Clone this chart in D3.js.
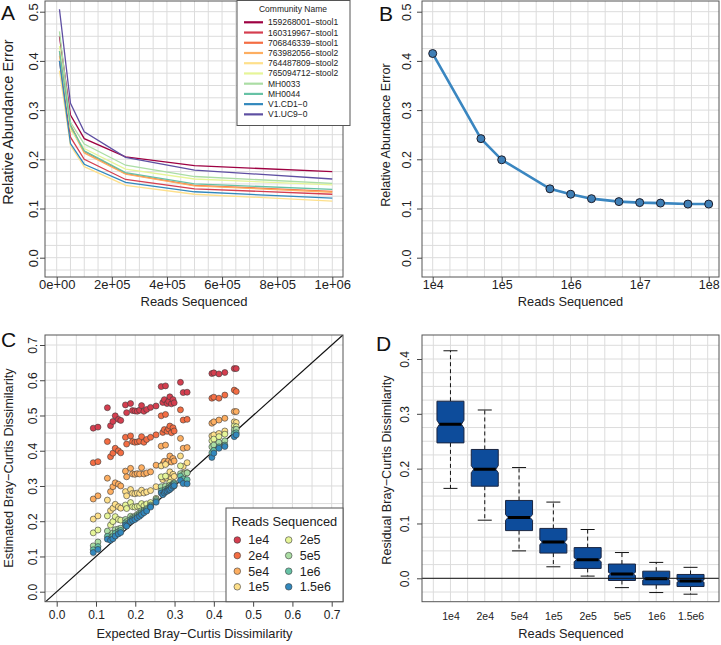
<!DOCTYPE html>
<html>
<head>
<meta charset="utf-8">
<script src="https://cdn.jsdelivr.net/npm/d3@7"></script>
<style>
body { margin: 0; background: #fff; }
text { font-family: "Liberation Sans", Arial, sans-serif; fill: #222; }
.tag { fill: #111; }
</style>
</head>
<body>
<svg id="fig" width="721" height="645"></svg>
<script>
// ---- panel A: error by community ----
const communities = ['159268001−stool1', '160319967−stool1', '706846339−stool1', '763982056−stool2',
  '764487809−stool2', '765094712−stool2', 'MH0033', 'MH0044', 'V1.CD1−0', 'V1.UC9−0'];
const communityColors = ['#9E0142', '#D53E4F', '#F46D43', '#FDAE61', '#FEE08B', '#E6F598', '#ABDDA4', '#66C2A5', '#3288BD', '#5E4FA2'];
const readsA = [1e4, 5e4, 1e5, 2.5e5, 5e5, 1e6];
const errA = [
  [0.450, 0.290, 0.242, 0.205, 0.187, 0.175],
  [0.400, 0.245, 0.200, 0.159, 0.140, 0.129],
  [0.420, 0.270, 0.216, 0.171, 0.147, 0.135],
  [0.410, 0.265, 0.213, 0.170, 0.146, 0.133],
  [0.380, 0.228, 0.185, 0.147, 0.129, 0.115],
  [0.430, 0.260, 0.222, 0.180, 0.160, 0.148],
  [0.460, 0.275, 0.231, 0.188, 0.165, 0.151],
  [0.420, 0.268, 0.217, 0.173, 0.150, 0.139],
  [0.400, 0.232, 0.190, 0.153, 0.134, 0.121],
  [0.505, 0.314, 0.256, 0.204, 0.178, 0.160],
];
const ticksA = ['0e+00', '2e+05', '4e+05', '6e+05', '8e+05', '1e+06'];

// ---- panel B: mean error ----
const readsB = [1e4, 5e4, 1e5, 5e5, 1e6, 2e6, 5e6, 1e7, 2e7, 5e7, 1e8];
const errB = [0.415, 0.242, 0.199, 0.140, 0.129, 0.120, 0.114, 0.112, 0.111, 0.109, 0.109];
const ticksB = ['1e4', '1e5', '1e6', '1e7', '1e8'];

// ---- panel C: expected vs estimated Bray-Curtis ----
const depths = ['1e4', '2e4', '5e4', '1e5', '2e5', '5e5', '1e6', '1.5e6'];
const depthColors = ['#D53E4F', '#F46D43', '#FDAE61', '#FEE08B', '#E6F598', '#ABDDA4', '#66C2A5', '#3288BD'];
const expected = [0.093, 0.105, 0.129, 0.137, 0.143, 0.149, 0.157, 0.163, 0.175, 0.178, 0.188, 0.193, 0.199, 0.205,
  0.211, 0.216, 0.222, 0.229, 0.239, 0.253, 0.266, 0.270, 0.274, 0.277, 0.281, 0.285, 0.288, 0.292, 0.296, 0.299,
  0.315, 0.322, 0.332, 0.395, 0.400, 0.413, 0.428, 0.452, 0.457];
const est1e4 = [0.464, 0.467, 0.522, 0.471, 0.483, 0.499, 0.489, 0.486, 0.530, 0.508, 0.534, 0.514, 0.513, 0.512,
  0.515, 0.528, 0.512, 0.517, 0.523, 0.527, 0.582, 0.537, 0.545, 0.584, 0.534, 0.540, 0.553, 0.533, 0.545, 0.536,
  0.594, 0.565, 0.566, 0.619, 0.621, 0.618, 0.622, 0.633, 0.633];
const est2e4 = [0.366, 0.369, 0.426, 0.383, 0.393, 0.407, 0.400, 0.394, 0.438, 0.419, 0.442, 0.426, 0.424, 0.425,
  0.427, 0.440, 0.424, 0.432, 0.438, 0.445, 0.499, 0.452, 0.460, 0.503, 0.455, 0.462, 0.470, 0.451, 0.465, 0.456,
  0.516, 0.487, 0.489, 0.549, 0.552, 0.549, 0.558, 0.572, 0.568];
const est5e4 = [0.263, 0.272, 0.322, 0.284, 0.298, 0.309, 0.305, 0.300, 0.342, 0.326, 0.350, 0.334, 0.333, 0.335,
  0.334, 0.352, 0.334, 0.337, 0.340, 0.359, 0.413, 0.362, 0.370, 0.416, 0.366, 0.372, 0.385, 0.368, 0.378, 0.371,
  0.435, 0.407, 0.409, 0.478, 0.482, 0.487, 0.492, 0.511, 0.511];
const est1e5 = [0.206, 0.215, 0.260, 0.230, 0.237, 0.248, 0.241, 0.237, 0.284, 0.272, 0.290, 0.279, 0.278, 0.280,
  0.279, 0.288, 0.280, 0.283, 0.287, 0.298, 0.357, 0.318, 0.325, 0.361, 0.322, 0.328, 0.340, 0.322, 0.333, 0.327,
  0.385, 0.355, 0.366, 0.442, 0.445, 0.449, 0.456, 0.482, 0.480];
const est2e5 = [0.167, 0.175, 0.215, 0.189, 0.199, 0.213, 0.205, 0.203, 0.246, 0.236, 0.253, 0.241, 0.240, 0.242,
  0.243, 0.250, 0.244, 0.249, 0.253, 0.265, 0.326, 0.292, 0.298, 0.328, 0.295, 0.300, 0.310, 0.296, 0.305, 0.300,
  0.357, 0.336, 0.338, 0.428, 0.433, 0.440, 0.447, 0.470, 0.468];
const est5e5 = [0.130, 0.141, 0.172, 0.160, 0.167, 0.176, 0.178, 0.180, 0.205, 0.199, 0.214, 0.211, 0.214, 0.219,
  0.224, 0.230, 0.231, 0.236, 0.246, 0.262, 0.298, 0.284, 0.289, 0.300, 0.291, 0.297, 0.302, 0.301, 0.306, 0.309,
  0.335, 0.332, 0.337, 0.411, 0.416, 0.424, 0.428, 0.459, 0.461];
const est1e6 = [0.119, 0.128, 0.157, 0.151, 0.157, 0.166, 0.170, 0.174, 0.195, 0.191, 0.204, 0.206, 0.210, 0.214,
  0.219, 0.224, 0.228, 0.233, 0.243, 0.258, 0.286, 0.280, 0.284, 0.290, 0.289, 0.293, 0.296, 0.300, 0.303, 0.306,
  0.328, 0.320, 0.318, 0.394, 0.401, 0.411, 0.416, 0.449, 0.451];
const est15e6 = [0.111, 0.120, 0.149, 0.146, 0.150, 0.158, 0.164, 0.168, 0.189, 0.186, 0.199, 0.202, 0.205, 0.210,
  0.214, 0.219, 0.224, 0.229, 0.240, 0.254, 0.280, 0.275, 0.280, 0.284, 0.285, 0.288, 0.290, 0.294, 0.299, 0.301,
  0.316, 0.307, 0.306, 0.381, 0.393, 0.407, 0.412, 0.440, 0.445];
const estimated = [est1e4, est2e4, est5e4, est1e5, est2e5, est5e5, est1e6, est15e6];

// ---- panel D: residual boxplots ----
const whiskHi = [0.415, 0.307, 0.202, 0.139, 0.089, 0.047, 0.029, 0.020];
const q3 = [0.323, 0.235, 0.142, 0.091, 0.056, 0.026, 0.013, 0.007];
const med = [0.281, 0.199, 0.111, 0.066, 0.034, 0.008, -0.001, -0.005];
const q1 = [0.247, 0.168, 0.087, 0.046, 0.018, -0.004, -0.012, -0.015];
const whiskLo = [0.164, 0.106, 0.050, 0.021, 0.004, -0.017, -0.026, -0.029];
const nPerDepth = 270;

const FONT = '"Liberation Sans", Arial, sans-serif';
const svg = d3.select('#fig');
let clipId = 0;

function panel(box, xs, ys, gridX, gridY) {
  const id = 'clip' + (clipId++);
  svg.append('clipPath').attr('id', id).append('rect')
    .attr('x', box.x0).attr('y', box.y0).attr('width', box.x1 - box.x0).attr('height', box.y1 - box.y0);
  const grid = svg.append('g').attr('clip-path', `url(#${id})`).attr('stroke', '#dcdcdc').attr('stroke-width', 1);
  grid.selectAll('.gx').data(gridX).join('line').attr('class', 'gx')
    .attr('x1', d => xs(d)).attr('x2', d => xs(d)).attr('y1', box.y0).attr('y2', box.y1);
  grid.selectAll('.gy').data(gridY).join('line').attr('class', 'gy')
    .attr('y1', d => ys(d)).attr('y2', d => ys(d)).attr('x1', box.x0).attr('x2', box.x1);
  return svg.append('g').attr('clip-path', `url(#${id})`);
}

function frame(box) {
  svg.append('rect').attr('x', box.x0).attr('y', box.y0)
    .attr('width', box.x1 - box.x0).attr('height', box.y1 - box.y0)
    .attr('fill', 'none').attr('stroke', '#555').attr('stroke-width', 1);
}

function xAxis(box, scale, vals, labels, size, base, tick) {
  const ax = svg.append('g').attr('transform', `translate(0,${box.y1})`)
    .call(d3.axisBottom(scale).tickValues(vals).tickFormat((d, i) => labels[i]).tickSize(tick).tickSizeOuter(0));
  ax.select('.domain').remove();
  ax.attr('font-size', size).attr('font-family', FONT).attr('color', '#444');
  ax.selectAll('text').attr('y', base - box.y1).attr('dy', 0).attr('fill', '#222');
}

function yAxis(box, scale, vals, labels, size, base) {
  const ax = svg.append('g').attr('transform', `translate(${box.x0},0)`)
    .call(d3.axisLeft(scale).tickValues(vals).tickFormat((d, i) => labels[i]).tickSize(5).tickSizeOuter(0));
  ax.select('.domain').remove();
  ax.attr('font-size', size).attr('font-family', FONT).attr('color', '#444');
  ax.selectAll('text').attr('transform', 'rotate(-90)').attr('x', 0).attr('y', base - box.x0)
    .attr('dy', 0).attr('text-anchor', 'middle').attr('fill', '#222');
}

function titles(xt, yt) {
  svg.append('text').attr('x', xt.x).attr('y', xt.y).attr('text-anchor', 'middle')
    .attr('font-size', xt.size).text(xt.text);
  svg.append('text').attr('transform', `translate(${yt.x},${yt.y}) rotate(-90)`).attr('text-anchor', 'middle')
    .attr('font-size', yt.size).text(yt.text);
}

function tag(letter, x, y) {
  svg.append('text').attr('class', 'tag').attr('x', x).attr('y', y).attr('font-size', 21).text(letter);
}

const fmt1 = d3.format('.1f');

// ================= A =================
{
  const box = { x0: 45, x1: 343, y0: 1, y1: 277 };
  const x = d3.scaleLinear().domain([0, 1e6]).range([56.7, 332.3]);
  const y = d3.scaleLinear().domain([0, 0.5]).range([257.7, 11.7]);
  const plot = panel(box, x, y, d3.range(0, 1e6 + 1, 5e4), d3.range(-0.05, 0.55, 0.025));
  const line = d3.line().x((d, i) => x(readsA[i])).y(d => y(d));
  plot.selectAll('path.comm').data(errA).join('path').attr('class', 'comm')
    .attr('d', line).attr('fill', 'none').attr('stroke', (d, i) => communityColors[i]).attr('stroke-width', 1.3);
  frame(box);
  xAxis(box, x, [0, 2e5, 4e5, 6e5, 8e5, 1e6], ticksA, 13, 289, 5);
  const yv = [0, 0.1, 0.2, 0.3, 0.4, 0.5];
  yAxis(box, y, yv, yv.map(fmt1), 13, 38);
  titles({ x: 194, y: 306, size: 13, text: 'Reads Sequenced' },
    { x: 13, y: 122, size: 14.5, text: 'Relative Abundance Error' });

  // legend
  const lg = svg.append('g');
  lg.append('rect').attr('x', 237).attr('y', 0.5).attr('width', 113).attr('height', 125)
    .attr('fill', '#fff').attr('stroke', '#555');
  lg.append('text').attr('x', 293).attr('y', 12).attr('text-anchor', 'middle').attr('font-size', 8.5).text('Community Name');
  const rows = lg.selectAll('g.row').data(communities).join('g').attr('class', 'row')
    .attr('transform', (d, i) => `translate(0,${22.3 + i * 10.23})`);
  rows.append('line').attr('x1', 244).attr('x2', 263).attr('stroke', (d, i) => communityColors[i]).attr('stroke-width', 2.2);
  rows.append('text').attr('x', 268).attr('y', 3).attr('font-size', 8.5).text(d => d);
  tag('A', 1, 20);
}

// ================= B =================
{
  const box = { x0: 422, x1: 719, y0: 1, y1: 277 };
  const x = d3.scaleLog().domain([1e4, 1e8]).range([432.7, 708.7]);
  const y = d3.scaleLinear().domain([0, 0.5]).range([257.7, 11.7]);
  const plot = panel(box, x, y, d3.range(3.75, 8.3, 0.25).map(e => Math.pow(10, e)), d3.range(-0.05, 0.55, 0.025));
  const line = d3.line().x((d, i) => x(readsB[i])).y(d => y(d));
  plot.append('path').datum(errB).attr('d', line).attr('fill', 'none')
    .attr('stroke', '#3a86c0').attr('stroke-width', 2.6);
  plot.selectAll('circle').data(errB).join('circle')
    .attr('cx', (d, i) => x(readsB[i])).attr('cy', d => y(d)).attr('r', 4)
    .attr('fill', '#3f7fb6').attr('stroke', '#1d1d2a').attr('stroke-width', 1);
  frame(box);
  xAxis(box, x, [1e4, 1e5, 1e6, 1e7, 1e8], ticksB, 12.5, 289, 5);
  const yv = [0, 0.1, 0.2, 0.3, 0.4, 0.5];
  yAxis(box, y, yv, yv.map(fmt1), 12.5, 410.5);
  titles({ x: 570.5, y: 306, size: 12.8, text: 'Reads Sequenced' },
    { x: 390, y: 135, size: 12.6, text: 'Relative Abundance Error' });
  tag('B', 379, 20.5);
}

// ================= C =================
{
  const box = { x0: 45, x1: 343, y0: 335, y1: 601.7 };
  const x = d3.scaleLinear().domain([0, 0.7]).range([56.7, 331.7]);
  const y = d3.scaleLinear().domain([0, 0.7]).range([591.7, 345]);
  const plot = panel(box, x, y, d3.range(-0.05, 0.8, 0.05), d3.range(-0.05, 0.8, 0.05));
  plot.append('line').attr('x1', x(-0.1)).attr('y1', y(-0.1)).attr('x2', x(0.8)).attr('y2', y(0.8))
    .attr('stroke', '#111').attr('stroke-width', 1.2);
  estimated.forEach((series, k) => {
    plot.append('g').selectAll('circle').data(series).join('circle')
      .attr('cx', (d, i) => x(expected[i])).attr('cy', d => y(d)).attr('r', 3)
      .attr('fill', depthColors[k]).attr('stroke', '#3a3a3a').attr('stroke-width', 0.6);
  });
  frame(box);
  const v = d3.range(0, 0.71, 0.1);
  xAxis(box, x, v, v.map(fmt1), 12, 619, 5);
  yAxis(box, y, v, v.map(fmt1), 12, 36.5);
  titles({ x: 194.5, y: 638, size: 12.8, text: 'Expected Bray−Curtis Dissimilarity' },
    { x: 13, y: 468, size: 12.8, text: 'Estimated Bray−Curtis Dissimilarity' });

  const lg = svg.append('g');
  lg.append('rect').attr('x', 226).attr('y', 508).attr('width', 117).attr('height', 93.7)
    .attr('fill', '#fff').attr('stroke', '#555');
  lg.append('text').attr('x', 284.5).attr('y', 526).attr('text-anchor', 'middle').attr('font-size', 12.8).text('Reads Sequenced');
  const items = lg.selectAll('g.item').data(depths).join('g').attr('class', 'item')
    .attr('transform', (d, i) => `translate(${i < 4 ? 237.3 : 288.7},${540 + (i % 4) * 15.6})`);
  items.append('circle').attr('r', 3.3).attr('fill', (d, i) => depthColors[i]).attr('stroke', '#3a3a3a').attr('stroke-width', 0.6);
  items.append('text').attr('x', 11).attr('y', 4.3).attr('font-size', 12.5).text(d => d);
  tag('C', 1, 347);
}

// ================= D =================
{
  const box = { x0: 422, x1: 719, y0: 335, y1: 601.7 };
  const x = d3.scaleLinear().domain([0.17, 8.83]).range([box.x0, box.x1]);
  const y = d3.scaleLinear().domain([0, 0.4]).range([578.3, 359]);
  const plot = panel(box, x, y, d3.range(0.5, 8.6, 0.5), d3.range(-0.05, 0.46, 0.025));
  const half = 13.5, indent = 2.5, cap = 7;
  const g = plot.selectAll('g.bx').data(depths).join('g').attr('class', 'bx');
  // whiskers
  g.append('line').attr('x1', (d, i) => x(i + 1)).attr('x2', (d, i) => x(i + 1))
    .attr('y1', (d, i) => y(q3[i])).attr('y2', (d, i) => y(whiskHi[i]))
    .attr('stroke', '#111').attr('stroke-dasharray', '4,3');
  g.append('line').attr('x1', (d, i) => x(i + 1)).attr('x2', (d, i) => x(i + 1))
    .attr('y1', (d, i) => y(q1[i])).attr('y2', (d, i) => y(whiskLo[i]))
    .attr('stroke', '#111').attr('stroke-dasharray', '4,3');
  g.append('line').attr('x1', (d, i) => x(i + 1) - cap).attr('x2', (d, i) => x(i + 1) + cap)
    .attr('y1', (d, i) => y(whiskHi[i])).attr('y2', (d, i) => y(whiskHi[i])).attr('stroke', '#111');
  g.append('line').attr('x1', (d, i) => x(i + 1) - cap).attr('x2', (d, i) => x(i + 1) + cap)
    .attr('y1', (d, i) => y(whiskLo[i])).attr('y2', (d, i) => y(whiskLo[i])).attr('stroke', '#111');
  // notched boxes
  g.append('path').attr('d', (d, i) => {
    const c = x(i + 1), l = c - half, r = c + half;
    const nh = 1.58 * (q3[i] - q1[i]) / Math.sqrt(nPerDepth);
    const pts = [[l, y(q1[i])], [l, y(med[i] - nh)], [l + indent, y(med[i])], [l, y(med[i] + nh)], [l, y(q3[i])],
      [r, y(q3[i])], [r, y(med[i] + nh)], [r - indent, y(med[i])], [r, y(med[i] - nh)], [r, y(q1[i])]];
    return 'M' + pts.map(p => p.join(',')).join('L') + 'Z';
  }).attr('fill', '#0d4c9b').attr('stroke', '#1a2540').attr('stroke-width', 1);
  g.append('line').attr('x1', (d, i) => x(i + 1) - half + indent).attr('x2', (d, i) => x(i + 1) + half - indent)
    .attr('y1', (d, i) => y(med[i])).attr('y2', (d, i) => y(med[i])).attr('stroke', '#000').attr('stroke-width', 3);
  plot.append('line').attr('x1', box.x0).attr('x2', box.x1).attr('y1', y(0)).attr('y2', y(0))
    .attr('stroke', '#111').attr('stroke-width', 1);
  frame(box);
  xAxis(box, x, d3.range(1, 9), depths, 10.5, 620, 0);
  const yv = [0, 0.1, 0.2, 0.3, 0.4];
  yAxis(box, y, yv, yv.map(fmt1), 12, 409);
  titles({ x: 571, y: 638, size: 12.8, text: 'Reads Sequenced' },
    { x: 391, y: 470, size: 12.6, text: 'Residual Bray−Curtis Dissimilarity' });
  tag('D', 376, 350.5);
}
</script>
</body>
</html>
